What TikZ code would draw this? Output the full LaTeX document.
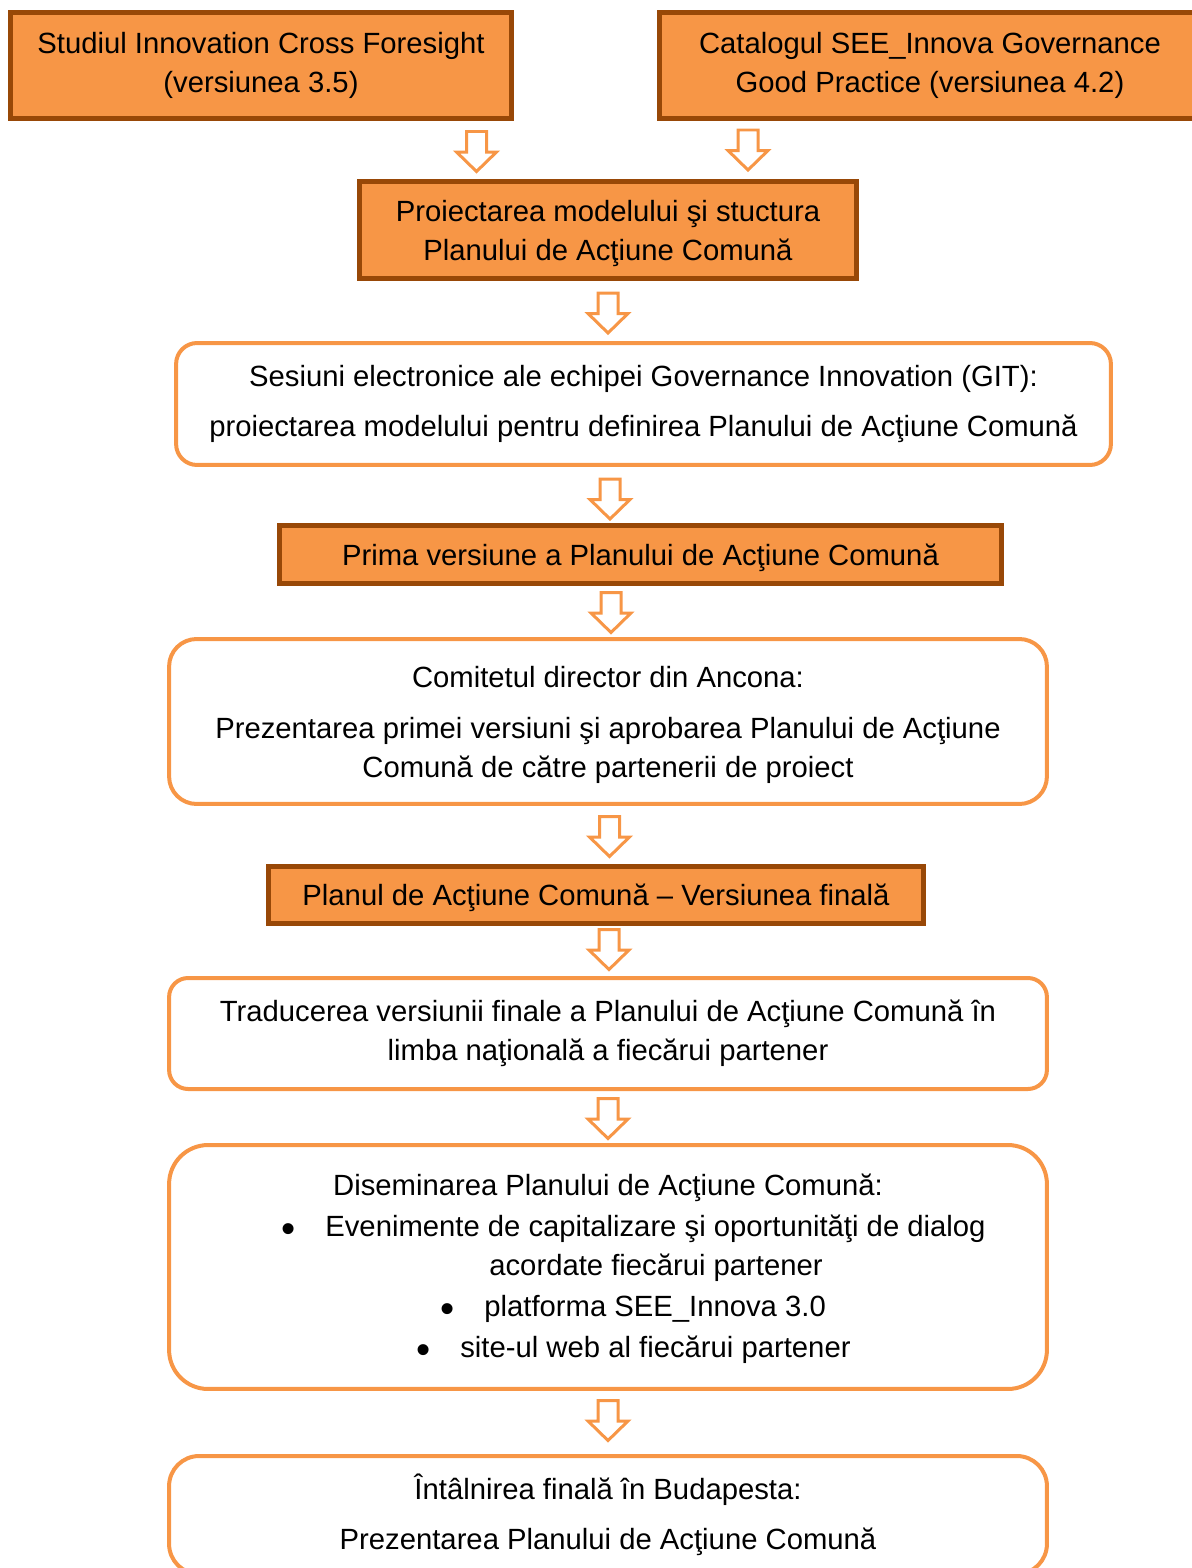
\documentclass[tikz,border=0pt]{standalone}
\usepackage{fontspec}
\setmainfont{Liberation Sans}
\usepackage{tikz}
\definecolor{boxorange}{HTML}{F79646}
\definecolor{boxbrown}{HTML}{984807}
\newcommand{\bulletmark}{\llap{\raisebox{-0.2em}{\fontsize{23}{23}\selectfont •}\hspace{0.6cm}}}
\newcommand{\topstrut}{\rule{0pt}{0.95em}}

\begin{document}
\begin{tikzpicture}[x=0.02cm, y=-0.02cm,
                every node/.style={font=\fontsize{16.65}{22.2}\selectfont, inner sep=0pt},
                stepbox/.style={draw=boxbrown, fill=boxorange, line width=0.1cm, align=center},
                roundbox/.style={draw=boxorange, line width=0.08cm, rounded corners=#1, align=center},
                roundbox/.default=0.45cm,
                textline/.style={anchor=west, text height=0.8em, text depth=0.2em},
                downarr/.pic={\draw[draw=boxorange, fill=white, line width=0.06cm, line join=miter]
                    (-10,-20.5) -- (10,-20.5) -- (10,0) -- (20,0) -- (0,19.5) -- (-20,0) -- (-10,0) -- cycle;}]
                \useasboundingbox (0,0) rectangle (1192,1568);

                % Sources
                \node[stepbox, minimum width=10.02cm, minimum height=2.12cm] (studiu) at (261,65.5)
                    {Studiul Innovation Cross Foresight\\(versiunea 3.5)};
                \node[stepbox, minimum width=10.84cm, minimum height=2.12cm] (catalog) at (930,65.5)
                    {Catalogul SEE\_Innova Governance\\Good Practice (versiunea 4.2)};
                \pic (arrA) at (476.5,152) {downarr};
                \pic (arrB) at (748,150.5) {downarr};

                % Model
                \node[stepbox, minimum width=9.95cm, minimum height=1.94cm] (proiect) at (608,230)
                    {\topstrut Proiectarea modelului şi stuctura\\Planului de Acţiune Comună};
                \pic (arrC) at (608,313.5) {downarr};
                \node[roundbox=0.42cm, minimum width=18.7cm, minimum height=2.44cm] (sesiuni) at (643.5,404)
                    {Sesiuni electronice ale echipei Governance Innovation (GIT):\\[0.22cm]proiectarea modelului pentru definirea Planului de Acţiune Comună};
                \pic (arrD) at (610,499.5) {downarr};

                % First version
                \node[stepbox, minimum width=14.44cm, minimum height=1.16cm] (prima) at (640.5,554.5)
                    {\topstrut Prima versiune a Planului de Acţiune Comună};
                \pic (arrE) at (611,613) {downarr};
                \node[roundbox=0.55cm, minimum width=17.56cm, minimum height=3.3cm] (comitet) at (608,721.5)
                    {\topstrut Comitetul director din Ancona:\\[0.24cm]Prezentarea primei versiuni şi aprobarea Planului de Acţiune\\Comună de către partenerii de proiect};
                \pic (arrF) at (609.5,837) {downarr};

                % Final version
                \node[stepbox, minimum width=13.1cm, minimum height=1.14cm] (final) at (596,894.5)
                    {\topstrut Planul de Acţiune Comună – Versiunea finală};
                \pic (arrG) at (609,950) {downarr};
                \node[roundbox=0.38cm, minimum width=17.56cm, minimum height=2.22cm] (traducere) at (608,1033.5)
                    {Traducerea versiunii finale a Planului de Acţiune Comună în\\limba naţională a fiecărui partener};
                \pic (arrH) at (608,1119) {downarr};

                % Dissemination
                \node[roundbox=0.78cm, minimum width=17.56cm, minimum height=4.88cm] (diseminare) at (608,1267) {};
                \node[textline, anchor=center] (distitle) at (608,1190) {Diseminarea Planului de Acţiune Comună:};
                \node[textline] (dis1) at (325,1231) {\bulletmark Evenimente de capitalizare şi oportunităţi de dialog};
                \node[textline] (dis1b) at (489,1270) {acordate fiecărui partener};
                \node[textline] (dis2) at (484,1311) {\bulletmark platforma SEE\_Innova 3.0};
                \node[textline] (dis3) at (460,1352) {\bulletmark site-ul web al fiecărui partener};
                \pic (arrI) at (608,1421) {downarr};

                % Final meeting
                \node[roundbox=0.6cm, minimum width=17.56cm, minimum height=2.36cm] (budapesta) at (608,1515)
                    {Întâlnirea finală în Budapesta:\\[0.22cm]Prezentarea Planului de Acţiune Comună};
            \end{tikzpicture}
\end{document}
